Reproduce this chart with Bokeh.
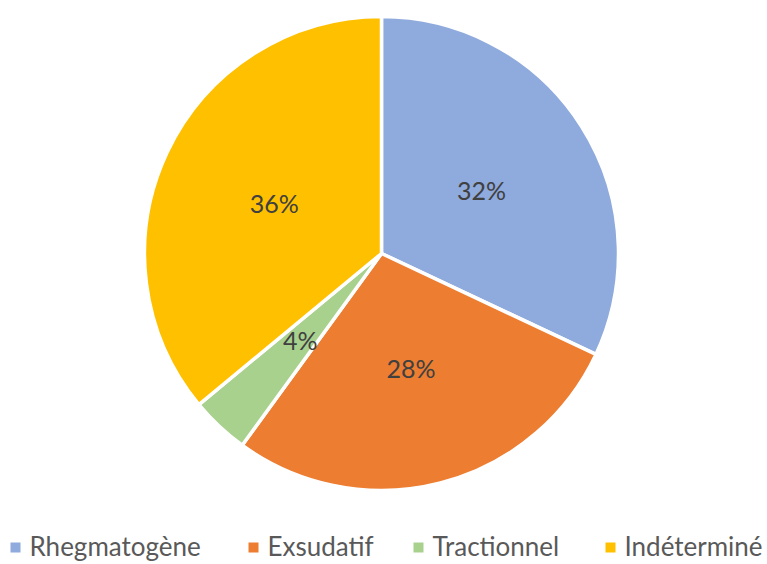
import numpy as np
from bokeh.plotting import figure
from bokeh.models import Range1d, ColumnDataSource
from bokeh.core.properties import value
from bokeh.embed import file_html
from bokeh.resources import INLINE

categories = ["Rhegmatogène", "Exsudatif", "Tractionnel", "Indéterminé"]
shares = [32, 28, 4, 36]
labels = ["32%", "28%", "4%", "36%"]
colors = ["#8FAADC", "#ED7D31", "#A9D18E", "#FFC000"]

W, H = 767, 564
cx, cy, R = 381, 564 - 253, 237

p = figure(width=W, height=H, output_backend="svg", toolbar_location=None,
           x_range=Range1d(0, W), y_range=Range1d(0, H), min_border=0)
p.axis.visible = False
p.grid.visible = False
p.outline_line_color = None
p.background_fill_color = "white"

frac = np.array(shares, dtype=float) / sum(shares)
cum = np.concatenate([[0], np.cumsum(frac)])
start = np.pi / 2 - cum[:-1] * 2 * np.pi
end = np.pi / 2 - cum[1:] * 2 * np.pi
mid = (start + end) / 2

src = ColumnDataSource(dict(start=start, end=end, color=colors, cat=categories,
                            lx=cx + 0.5 * R * np.cos(mid), ly=cy + 0.5 * R * np.sin(mid),
                            lab=labels))
p.wedge(x=cx, y=cy, radius=R, start_angle="start", end_angle="end", direction="clock",
        fill_color="color", line_color="white", line_width=3.5, source=src)
p.text(x="lx", y="ly", text="lab", source=src, text_align="center", text_baseline="middle",
       text_font=value("Lato"), text_font_size="25px", text_color="#404040")

# legend
leg_x = [10, 248, 413, 605]
leg = ColumnDataSource(dict(sx=[x + 5 for x in leg_x], tx=[x + 19 for x in leg_x],
                            cat=categories, color=colors))
p.scatter(x="sx", y=17, marker="square", size=10, fill_color="color", line_color=None, source=leg)
p.text(x="tx", y=19, text="cat", source=leg, text_align="left", text_baseline="middle",
       text_font=value("Lato"), text_font_size="26px", text_color="#595959")

open("out.html", "w").write(file_html(p, INLINE))
